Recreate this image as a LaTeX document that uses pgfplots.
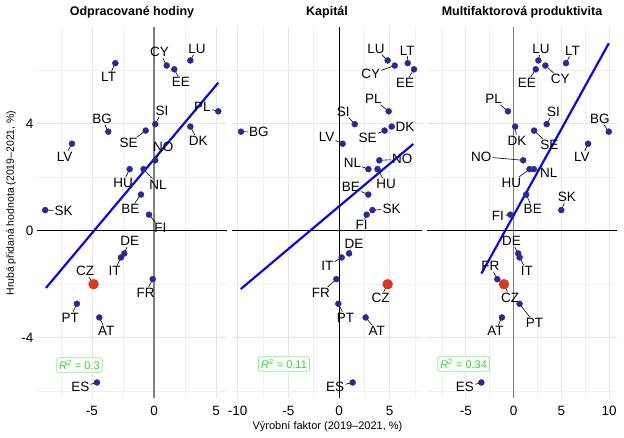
\documentclass[border=0pt]{standalone}
\usepackage{pgfplots}
\usepackage{pgfplotstable}
\pgfplotsset{compat=1.18}
\usepackage{fontspec}
\setmainfont{Liberation Sans}
\definecolor{dotblue}{HTML}{2B2A8F}
\definecolor{czred}{HTML}{D63A22}
\definecolor{regblue}{HTML}{0A0ADC}
\definecolor{r2green}{HTML}{33D633}
\definecolor{r2border}{HTML}{8AEB8A}
\definecolor{zerogray}{HTML}{7F7F7F}

% name x y (GVA growth vs factor contribution)
\pgfplotstableread{
name x y
LU 2.92 6.36
CY 1.02 6.17
EE 1.63 6.03
LT -3.11 6.26
PL 5.17 4.46
SI 0.10 3.98
DK 2.92 3.89
BG -3.68 3.70
SE -0.67 3.74
LV -6.60 3.25
NO 0.10 2.63
HU -1.96 2.30
NL -0.84 2.30
BE -1.05 1.35
SK -8.75 0.77
FI -0.40 0.60
DE -2.39 -0.85
IT -2.66 -1.00
FR -0.10 -1.81
PT -6.20 -2.73
AT -4.40 -3.24
ES -4.59 -5.67
}\tabA
\pgfplotstableread{
name x y
LU 4.80 6.36
LT 6.78 6.26
CY 5.50 6.17
EE 7.40 6.03
PL 4.90 4.46
SI 1.55 3.98
DK 5.20 3.89
SE 4.50 3.74
BG -9.67 3.70
LV 0.36 3.25
NO 3.98 2.63
NL 2.90 2.30
HU 3.80 2.30
BE 2.89 1.35
SK 3.30 0.77
FI 2.73 0.60
DE 0.99 -0.85
IT 0.26 -1.00
FR -0.26 -1.81
PT -0.07 -2.73
AT 2.63 -3.24
ES 1.35 -5.67
}\tabB
\pgfplotstableread{
name x y
LU 2.60 6.36
LT 5.49 6.26
CY 3.33 6.17
EE 2.33 6.03
PL -0.59 4.46
SI 3.47 3.98
DK 0.17 3.89
SE 2.15 3.74
BG 9.97 3.70
LV 7.81 3.25
NO 1.01 2.63
HU 1.67 2.30
NL 2.12 2.30
BE 1.32 1.35
SK 5.00 0.77
FI -0.35 0.60
DE 0.49 -0.85
IT 0.63 -1.00
FR -1.70 -1.81
PT 0.63 -2.73
AT -1.22 -3.24
ES -3.37 -5.67
}\tabC

\newcommand{\lab}[5]{%
  \node[lbl] (L) at (axis cs:#3,#4) {#5};
  \draw[leader] (axis cs:#1,#2) -- (L);
}

\pgfplotsset{
  panel/.style={
    scale only axis, width=190pt, height=371pt,
    ymin=-6.25, ymax=7.61,
    anchor=south west,
    axis line style={draw=none}, tick style={draw=none},
    grid=both,
    major grid style={draw=black!10, line width=0.6pt},
    minor grid style={draw=black!6, line width=0.5pt},
    ytick={-4,0,4}, minor ytick={-6,-2,2,6},
    clip=false,
    title style={font=\bfseries\fontsize{12.5}{15}\selectfont, at={(0.5,1)}, anchor=base, yshift=5.5pt},
    tick label style={font=\fontsize{13.5}{16}\selectfont},
    /pgf/number format/assume math mode=true,
    xticklabel style={anchor=base, yshift=-17pt},
  },
}
\tikzset{
  lbl/.style={font=\fontsize{13.5}{15}\selectfont, inner sep=1pt, text=black},
  leader/.style={black, line width=0.6pt},
  r2box/.style={draw=r2border, fill=white, rounded corners=2pt, text=r2green, font=\fontsize{11}{12}\selectfont, inner sep=2.5pt, line width=0.7pt},
}

\begin{document}
\begin{tikzpicture}
\useasboundingbox (0,0) rectangle (624pt,437pt);

% ---------- Panel 1 ----------
\begin{axis}[panel, at={(37pt,39pt)}, xmin=-9.41, xmax=5.87,
  title={Odpracované hodiny},
  xtick={-5,0,5}, xticklabels={-5,0,5}, minor xtick={-7.5,-2.5,2.5},
  yticklabels={-4,0,4}]
\draw[zerogray, line width=1.8pt] (axis cs:0,-6.25) -- (axis cs:0,7.61);
\draw[black, line width=0.7pt] (axis cs:-9.41,0) -- (axis cs:5.87,0);
\addplot[regblue, line width=2.2pt] coordinates {(-8.69,-2.14) (5.17,5.53)};
\lab{2.92}{6.36}{3.46}{6.79}{LU}
\lab{1.02}{6.17}{0.45}{6.67}{CY}
\lab{1.63}{6.03}{2.17}{5.55}{EE}
\lab{-3.11}{6.26}{-3.65}{5.73}{LT}
\lab{5.17}{4.46}{3.89}{4.61}{PL}
\lab{0.10}{3.98}{0.64}{4.47}{SI}
\lab{2.92}{3.89}{3.56}{3.35}{DK}
\lab{-3.68}{3.70}{-4.18}{4.17}{BG}
\lab{-0.67}{3.74}{-2.04}{3.27}{SE}
\lab{-6.60}{3.25}{-7.19}{2.77}{LV}
\lab{0.10}{2.63}{0.75}{3.13}{NO}
\lab{-1.96}{2.30}{-2.49}{1.79}{HU}
\lab{-0.84}{2.30}{0.32}{1.73}{NL}
\lab{-1.05}{1.35}{-1.91}{0.80}{BE}
\lab{-8.75}{0.77}{-7.27}{0.75}{SK}
\lab{-0.40}{0.60}{0.51}{0.09}{FI}
\lab{-2.39}{-0.85}{-1.96}{-0.39}{DE}
\lab{-2.66}{-1.00}{-3.17}{-1.51}{IT}
\lab{-0.10}{-1.81}{-0.67}{-2.32}{FR}
\lab{-4.86}{-2.00}{-5.53}{-1.51}{CZ}
\lab{-6.20}{-2.73}{-6.73}{-3.24}{PT}
\lab{-4.40}{-3.24}{-3.84}{-3.75}{AT}
\lab{-4.59}{-5.67}{-5.93}{-5.85}{ES}
\addplot[only marks, mark=*, mark size=3pt, color=dotblue] table[x=x,y=y] {\tabA};
\addplot[only marks, mark=*, mark size=5pt, color=czred] coordinates {(-4.86,-2.00)};
\node[r2box] at (axis cs:-6.0,-5.02) {\textit{R}\textsuperscript{2} = 0.3};
\end{axis}

% ---------- Panel 2 ----------
\begin{axis}[panel, at={(232pt,39pt)}, xmin=-10.56, xmax=8.19,
  title={Kapitál},
  xtick={-10,-5,0,5}, xticklabels={-10,-5,0,5}, minor xtick={-7.5,-2.5,2.5,7.5},
  yticklabels={}]
\draw[black, line width=0.8pt] (axis cs:0,-6.25) -- (axis cs:0,7.61);
\draw[black, line width=0.7pt] (axis cs:-10.56,0) -- (axis cs:8.19,0);
\addplot[regblue, line width=2.2pt] coordinates {(-9.7,-2.18) (7.33,3.24)};
\lab{4.80}{6.36}{3.65}{6.79}{LU}
\lab{6.78}{6.26}{6.74}{6.73}{LT}
\lab{5.50}{6.17}{3.13}{5.85}{CY}
\lab{7.40}{6.03}{6.52}{5.51}{EE}
\lab{4.90}{4.46}{3.39}{4.92}{PL}
\lab{1.55}{3.98}{0.43}{4.45}{SI}
\lab{5.20}{3.89}{6.52}{3.89}{DK}
\lab{4.50}{3.74}{2.83}{3.48}{SE}
\lab{-9.67}{3.70}{-7.90}{3.68}{BG}
\lab{0.36}{3.25}{-1.22}{3.51}{LV}
\lab{3.98}{2.63}{6.25}{2.67}{NO}
\lab{2.90}{2.30}{1.32}{2.52}{NL}
\lab{3.80}{2.30}{4.64}{1.75}{HU}
\lab{2.89}{1.35}{1.18}{1.62}{BE}
\lab{3.30}{0.77}{5.20}{0.81}{SK}
\lab{2.73}{0.60}{2.24}{0.21}{FI}
\lab{0.99}{-0.85}{1.48}{-0.50}{DE}
\lab{0.26}{-1.00}{-1.15}{-1.32}{IT}
\lab{-0.26}{-1.81}{-1.78}{-2.32}{FR}
\lab{4.80}{-2.00}{4.11}{-2.50}{CZ}
\lab{-0.07}{-2.73}{0.63}{-3.24}{PT}
\lab{2.63}{-3.24}{3.72}{-3.75}{AT}
\lab{1.35}{-5.67}{-0.39}{-5.83}{ES}
\addplot[only marks, mark=*, mark size=3pt, color=dotblue] table[x=x,y=y] {\tabB};
\addplot[only marks, mark=*, mark size=5pt, color=czred] coordinates {(4.80,-2.00)};
\node[r2box] at (axis cs:-5.43,-4.98) {\textit{R}\textsuperscript{2} = 0.11};
\end{axis}

% ---------- Panel 3 ----------
\begin{axis}[panel, at={(427pt,39pt)}, xmin=-9.06, xmax=10.83,
  title={Multifaktorová produktivita},
  xtick={-5,0,5,10}, xticklabels={-5,0,5,10}, minor xtick={-7.5,-2.5,2.5,7.5},
  yticklabels={}]
\draw[zerogray, line width=1.8pt] (axis cs:0,-6.25) -- (axis cs:0,7.61);
\draw[black, line width=0.7pt] (axis cs:-9.06,0) -- (axis cs:10.83,0);
\addplot[regblue, line width=2.2pt] coordinates {(-3.36,-1.6) (9.97,7.0)};
\lab{2.60}{6.36}{2.88}{6.79}{LU}
\lab{5.49}{6.26}{6.18}{6.73}{LT}
\lab{3.33}{6.17}{4.90}{5.66}{CY}
\lab{2.33}{6.03}{1.39}{5.53}{EE}
\lab{-0.59}{4.46}{-2.08}{4.92}{PL}
\lab{3.47}{3.98}{4.17}{4.45}{SI}
\lab{0.17}{3.89}{0.35}{3.35}{DK}
\lab{2.15}{3.74}{3.75}{3.20}{SE}
\lab{9.97}{3.70}{9.03}{4.18}{BG}
\lab{7.81}{3.25}{7.15}{2.77}{LV}
\lab{1.01}{2.63}{-3.37}{2.77}{NO}
\lab{1.67}{2.30}{-0.24}{1.79}{HU}
\lab{2.12}{2.30}{3.68}{2.15}{NL}
\lab{1.32}{1.35}{2.01}{0.81}{BE}
\lab{5.00}{0.77}{5.59}{1.25}{SK}
\lab{-0.35}{0.60}{-1.63}{0.55}{FI}
\lab{0.49}{-0.85}{-0.21}{-0.39}{DE}
\lab{0.63}{-1.00}{1.39}{-1.51}{IT}
\lab{-1.70}{-1.81}{-2.43}{-1.32}{FR}
\lab{-1.00}{-2.00}{-0.35}{-2.50}{CZ}
\lab{0.63}{-2.73}{2.19}{-3.46}{PT}
\lab{-1.22}{-3.24}{-1.88}{-3.75}{AT}
\lab{-3.37}{-5.67}{-5.10}{-5.85}{ES}
\addplot[only marks, mark=*, mark size=3pt, color=dotblue] table[x=x,y=y] {\tabC};
\addplot[only marks, mark=*, mark size=5pt, color=czred] coordinates {(-1.00,-2.00)};
\node[r2box] at (axis cs:-5.23,-4.98) {\textit{R}\textsuperscript{2} = 0.34};
\end{axis}

\node[rotate=90, font=\fontsize{10.5}{12}\selectfont] at (11pt,234pt) {Hrubá přidaná hodnota (2019–2021, \%)};
\node[font=\fontsize{11}{13}\selectfont] at (327.5pt,10.3pt) {Výrobní faktor (2019–2021, \%)};
\end{tikzpicture}
\end{document}
